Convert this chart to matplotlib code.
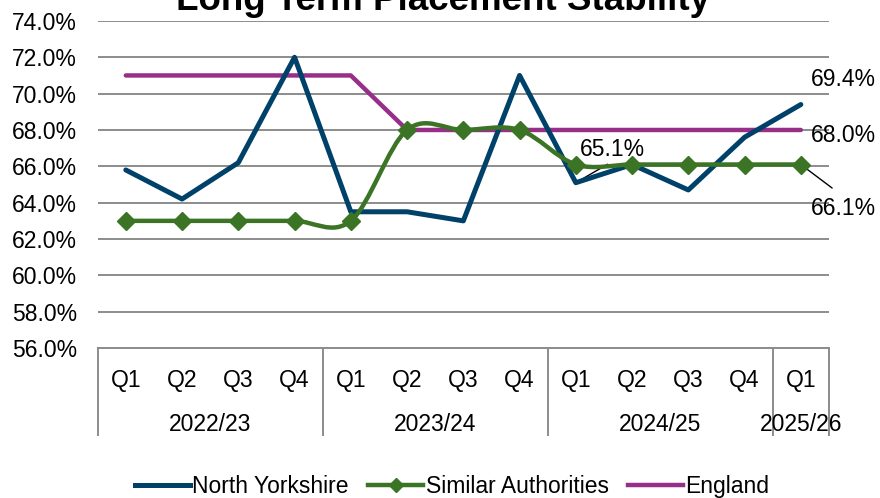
import matplotlib
matplotlib.use("Agg")
import matplotlib.pyplot as plt
import numpy as np
from matplotlib.path import Path
from matplotlib.patches import PathPatch
from matplotlib.lines import Line2D
from matplotlib.ticker import PercentFormatter

plt.rcParams['font.family'] = ['Liberation Sans', 'DejaVu Sans']

# data
quarters = ["Q1", "Q2", "Q3", "Q4", "Q1", "Q2", "Q3", "Q4", "Q1", "Q2", "Q3", "Q4", "Q1"]
years = ["2022/23", "2023/24", "2024/25", "2025/26"]
year_sizes = [4, 4, 4, 1]
north_yorks = [65.8, 64.2, 66.2, 72.0, 63.5, 63.5, 63.0, 71.0, 65.1, 66.1, 64.7, 67.6, 69.4]
similar = [63.0, 63.0, 63.0, 63.0, 63.0, 68.0, 68.0, 68.0, 66.1, 66.1, 66.1, 66.1, 66.1]
england = [71.0, 71.0, 71.0, 71.0, 71.0, 68.0, 68.0, 68.0, 68.0, 68.0, 68.0, 68.0, 68.0]

c_ny = "#00416A"
c_sim = "#3A7424"
c_eng = "#972F88"
fs = 16.5

fig = plt.figure(figsize=(8.8, 4.98), dpi=100)
ax = fig.add_axes([0.111, 0.301, 0.831, 0.657])

x = np.arange(len(quarters))

# gridlines
ax.set_ylim(56, 74)
ax.set_xlim(-0.5, len(quarters) - 0.5)
ax.set_yticks(np.arange(56, 74.1, 2))
ax.yaxis.set_major_formatter(PercentFormatter(decimals=1))
ax.grid(axis='y', color="#8C8C8C", lw=1.4)
ax.set_axisbelow(True)
for s in ["top", "right", "left"]:
    ax.spines[s].set_visible(False)
ax.spines["bottom"].set_color("#8C8C8C")
ax.spines["bottom"].set_linewidth(1.4)
ax.tick_params(axis='y', length=0, pad=15, labelsize=fs)
ax.set_xticks(x)
ax.set_xticklabels(quarters)
ax.tick_params(axis='x', length=0, pad=15, labelsize=fs)

# smoothed line (excel style catmull-rom bezier)
def smooth_path(xs, ys):
    xs = np.asarray(xs, float)
    ys = np.asarray(ys, float)
    n = len(xs)
    verts = [(xs[0], ys[0])]
    codes = [Path.MOVETO]
    for i in range(n - 1):
        p0 = i - 1 if i > 0 else i
        p3 = i + 2 if i + 2 < n else i + 1
        c1 = (xs[i] + (xs[i + 1] - xs[p0]) / 6, ys[i] + (ys[i + 1] - ys[p0]) / 6)
        c2 = (xs[i + 1] - (xs[p3] - xs[i]) / 6, ys[i + 1] - (ys[p3] - ys[i]) / 6)
        verts += [c1, c2, (xs[i + 1], ys[i + 1])]
        codes += [Path.CURVE4] * 3
    return Path(verts, codes)

ax.plot(x, england, color=c_eng, lw=3.2, solid_capstyle='round', zorder=3)
ax.plot(x, north_yorks, color=c_ny, lw=3.6, solid_capstyle='round', zorder=4)
ax.add_patch(PathPatch(smooth_path(x, similar), fill=False, edgecolor=c_sim, lw=3.2, zorder=5))
ax.plot(x, similar, linestyle='none', marker='D', ms=9, color=c_sim, zorder=6)

# data labels
ax.annotate(f"{north_yorks[8]:.1f}%", xy=(x[8], north_yorks[8]), xytext=(8.65, 66.9),
            ha='center', va='center', fontsize=fs,
            arrowprops=dict(arrowstyle='-', color='black', lw=1, relpos=(0.5, 0.0),
                            shrinkA=0, shrinkB=2))
ax.text(12.76, 70.75, f"{north_yorks[12]:.1f}%", ha='center', va='center', fontsize=fs)
ax.text(12.76, 67.67, f"{england[12]:.1f}%", ha='center', va='center', fontsize=fs)
ax.annotate(f"{similar[12]:.1f}%", xy=(x[12], similar[12]), xytext=(12.76, 63.7),
            ha='center', va='center', fontsize=fs,
            arrowprops=dict(arrowstyle='-', color='black', lw=1, relpos=(0.5, 1.0),
                            shrinkA=7, shrinkB=3))

# year groups on the category axis
start = -0.5
ax.plot([start, start], [0, -0.266], transform=ax.get_xaxis_transform(),
        color="#8C8C8C", lw=1.4, clip_on=False)
for yr, n in zip(years, year_sizes):
    end = start + n
    ax.plot([end, end], [0, -0.266], transform=ax.get_xaxis_transform(),
            color="#8C8C8C", lw=1.4, clip_on=False)
    mid = (start + end) / 2
    ax.text(mid, -0.232, yr, transform=ax.get_xaxis_transform(),
            ha='center', va='center', fontsize=fs)
    start = end

fig.text(0.503, 1 - 10 / 498, "Long Term Placement Stability", ha='center', va='baseline',
         fontsize=26.5, fontweight='bold')

handles = [Line2D([], [], color=c_ny, lw=3.6),
           Line2D([], [], color=c_sim, lw=3.2, marker='D', ms=7),
           Line2D([], [], color=c_eng, lw=3.2)]
fig.legend(handles, ["North Yorkshire", "Similar Authorities", "England"],
           loc='center', bbox_to_anchor=(0.514, 0.024), ncol=3, frameon=False,
           fontsize=fs, handlelength=2.4, handletextpad=0.1, columnspacing=0.85)

fig.savefig("out.png", dpi=100)
